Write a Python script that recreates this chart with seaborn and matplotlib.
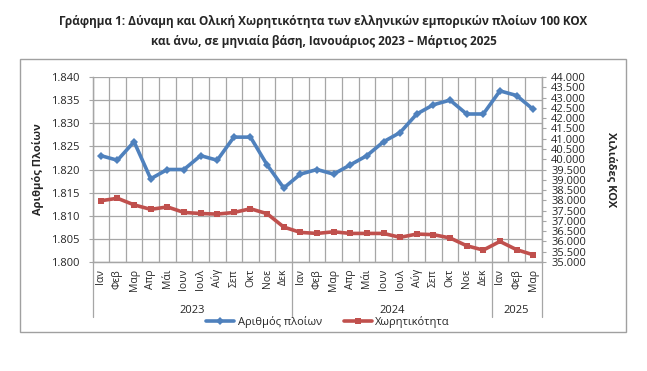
import seaborn as sns
import matplotlib.pyplot as plt
import matplotlib.ticker as mticker
import pandas as pd

# Monthly data, Jan 2023 - Mar 2025
months = ["Ιαν", "Φεβ", "Μαρ", "Απρ", "Μάι", "Ιουν", "Ιουλ", "Αύγ", "Σεπ", "Οκτ", "Νοε", "Δεκ",
          "Ιαν", "Φεβ", "Μαρ", "Απρ", "Μάι", "Ιουν", "Ιουλ", "Αύγ", "Σεπ", "Οκτ", "Νοε", "Δεκ",
          "Ιαν", "Φεβ", "Μαρ"]
years = ["2023"] * 12 + ["2024"] * 12 + ["2025"] * 3

# Number of ships (left axis)
ships = [1823, 1822, 1826, 1818, 1820, 1820, 1823, 1822, 1827, 1827, 1821, 1816,
         1819, 1820, 1819, 1821, 1823, 1826, 1828, 1832, 1834, 1835, 1832, 1832,
         1837, 1836, 1833]
# Gross tonnage, thousands GT (right axis)
tonnage = [37980, 38100, 37780, 37560, 37680, 37410, 37360, 37330, 37410, 37590, 37350, 36700,
           36440, 36390, 36470, 36390, 36390, 36390, 36200, 36360, 36330, 36170, 35790, 35580,
           36000, 35600, 35350]

df = pd.DataFrame({"pos": range(len(months)), "ships": ships, "tonnage": tonnage})

BLUE = "#4F81BD"
RED = "#C0504D"
GRID = "#a6a6a6"

sns.set_style("white")
plt.rcParams["font.family"] = ["Open Sans", "DejaVu Sans"]

def greek_fmt(v, _):
    return f"{v:,.0f}".replace(",", ".")

fig = plt.figure(figsize=(6.47, 3.71), dpi=100)
ax = fig.add_axes([92.5 / 647, 1 - 262 / 371, 449 / 647, 185 / 371])
ax2 = ax.twinx()

sns.lineplot(data=df, x="pos", y="ships", ax=ax, color=BLUE, lw=2.6, marker="D",
             markersize=4.5, markeredgewidth=0, label="Αριθμός πλοίων", legend=False, zorder=3)
sns.lineplot(data=df, x="pos", y="tonnage", ax=ax2, color=RED, lw=2.6, marker="s",
             markersize=5, markeredgewidth=0, label="Χωρητικότητα", legend=False, zorder=3)

n = len(months)
ax.set_xlim(-0.5, n - 0.5)
ax.set_ylim(1800, 1840)
ax2.set_ylim(35000, 44000)
ax.yaxis.set_major_locator(mticker.MultipleLocator(5))
ax2.yaxis.set_major_locator(mticker.MultipleLocator(500))
ax.yaxis.set_major_formatter(mticker.FuncFormatter(greek_fmt))
ax2.yaxis.set_major_formatter(mticker.FuncFormatter(greek_fmt))

ax.set_xticks(range(n))
ax.set_xticklabels(months, rotation=90, fontsize=7.5)
ax.set_xticks([i - 0.5 for i in range(n + 1)], minor=True)
ax.tick_params(axis="x", which="major", length=0, pad=5)
ax.tick_params(axis="x", which="minor", length=19, color=GRID, width=0.8, direction="out")
ax.tick_params(axis="y", labelsize=8, length=3, color=GRID, pad=6)
ax2.tick_params(axis="y", labelsize=8, length=3, color=GRID, pad=4)

ax.grid(True, axis="y", color=GRID, lw=0.9)
ax.grid(True, axis="x", which="minor", color=GRID, lw=0.9)
ax.set_axisbelow(True)
for a in (ax, ax2):
    for s in a.spines.values():
        s.set_color(GRID)
        s.set_linewidth(0.9)
    a.spines["top"].set_visible(False)

ax.set_xlabel("")
ax.set_ylabel("Αριθμός Πλοίων", fontsize=8, fontweight="bold")
ax.yaxis.set_label_coords(-0.108, 0.5)
ax2.set_ylabel("Χιλιάδες ΚΟΧ", fontsize=8, fontweight="bold", rotation=-90)
ax2.yaxis.set_label_coords(1.168, 0.5)

# Year group labels and separators
xt = ax.get_xaxis_transform()
start = 0
bounds = [-0.5]
for yr in dict.fromkeys(years):
    cnt = years.count(yr)
    ax.text(start + (cnt - 1) / 2, -0.26, yr, transform=xt, ha="center", va="center", fontsize=8)
    start += cnt
    bounds.append(start - 0.5)
for b in bounds:
    ax.plot([b, b], [0, -0.297], transform=xt, color=GRID, lw=0.9, clip_on=False)

# Legend
h1, l1 = ax.get_legend_handles_labels()
h2, l2 = ax2.get_legend_handles_labels()
fig.legend(h1 + h2, l1 + l2, loc="center", bbox_to_anchor=(0.507, 1 - 322 / 371), ncol=2,
           frameon=False, fontsize=8, handlelength=2.5, columnspacing=2, handletextpad=0.3,
           borderpad=0)

# Title and chart frame
fig.text(0.5, 1 - 21 / 371, "Γράφημα 1: Δύναμη και Ολική Χωρητικότητα των ελληνικών εμπορικών πλοίων 100 ΚΟΧ",
         ha="center", va="center", fontsize=8.5, fontweight="bold")
fig.text(0.5, 1 - 41 / 371, "και άνω, σε μηνιαία βάση, Ιανουάριος 2023 – Μάρτιος 2025",
         ha="center", va="center", fontsize=8.5, fontweight="bold")
fig.add_artist(plt.Rectangle((20 / 647, 1 - 332 / 371), 606 / 647, 273 / 371,
                             transform=fig.transFigure, fill=False, ec="#a0a0a0", lw=1))

fig.savefig("out.png", dpi=100)
